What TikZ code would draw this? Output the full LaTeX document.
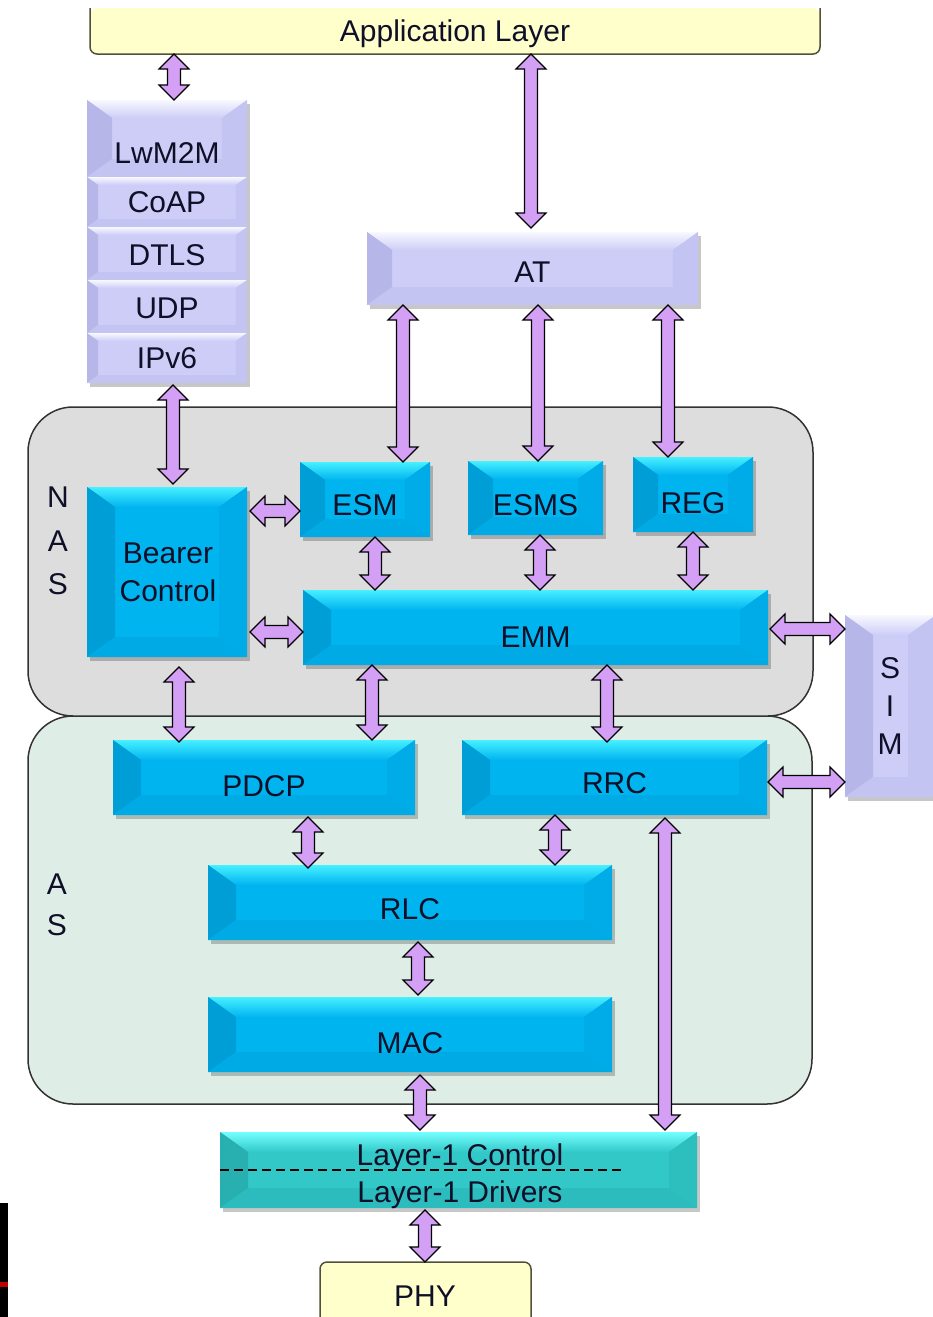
\documentclass[tikz,border=0pt]{standalone}
\usepackage{fontspec}
\setmainfont{Liberation Sans}
\usetikzlibrary{calc}
\pgfdeclarelayer{regions}
\pgfdeclarelayer{boxes}
\pgfsetlayers{regions,boxes,main}
\definecolor{txtc}{RGB}{15,15,40}
\definecolor{yel}{RGB}{255,255,204}
\definecolor{yelb}{RGB}{80,80,60}
\definecolor{nasf}{RGB}{221,221,221}
\definecolor{asf}{RGB}{222,238,230}
\definecolor{regb}{RGB}{50,50,50}
\definecolor{arrf}{RGB}{212,160,245}
\definecolor{bM}{RGB}{0,180,240}
\definecolor{bT}{RGB}{70,240,255}
\definecolor{bL}{RGB}{0,158,214}
\definecolor{bR}{RGB}{0,172,232}
\definecolor{bB}{RGB}{0,170,228}
\definecolor{lM}{RGB}{205,205,248}
\definecolor{lT}{RGB}{248,248,255}
\definecolor{lL}{RGB}{182,182,232}
\definecolor{lR}{RGB}{196,196,243}
\definecolor{lB}{RGB}{196,196,242}
\definecolor{tM}{RGB}{50,200,200}
\definecolor{tT}{RGB}{115,255,255}
\definecolor{tL}{RGB}{40,175,175}
\definecolor{tR}{RGB}{45,190,190}
\definecolor{tB}{RGB}{45,188,190}
\tikzset{
  boxshape/.style={rectangle, inner sep=0pt, outer sep=0pt},
  txt/.style={font=\fontsize{30}{36}\selectfont, text=txtc, inner sep=0pt, text height=21.5pt, text depth=0pt},
  txtml/.style={font=\fontsize{30}{38}\selectfont, text=txtc, inner sep=0pt, align=center},
  shadowc/.style={fill=black, opacity=0.22},
  fatarrow/.style={fill=arrf, draw=black, line width=1.2pt, line join=miter},
  region/.style={rectangle, rounded corners=45pt, draw=regb, line width=1.5pt, inner sep=0pt, outer sep=0pt},
  yelbox/.style={fill=yel},
  yelline/.style={draw=yelb, line width=1.5pt, rounded corners=7pt}
}
\newcommand{\bbox}[9]{%
  \node[boxshape, minimum width={#4-#2}, minimum height={#5-#3}] (#1) at ({(#2+#4)/2},{(#3+#5)/2}) {};
  \begin{pgfonlayer}{boxes}
    \fill[shadowc] ($(#1.north west)+(3,4)$) rectangle ($(#1.south east)+(3,4)$);
    \fill[#6M] (#1.north west) rectangle (#1.south east);
    \shade[top color=#6T, bottom color=#6M] (#1.north west) -- (#1.north east) -- ($(#1.north east)+({-1.4*#7},#7)$) -- ($(#1.north west)+({1.4*#7},#7)$) -- cycle;
    \fill[#6L] (#1.north west) -- ($(#1.north west)+({1.4*#7},#7)$) -- ($(#1.south west)+({1.4*#7},-#7)$) -- (#1.south west) -- cycle;
    \fill[#6R] (#1.north east) -- ($(#1.north east)+({-1.4*#7},#7)$) -- ($(#1.south east)+({-1.4*#7},-#7)$) -- (#1.south east) -- cycle;
    \fill[#6B] (#1.south west) -- ($(#1.south west)+({1.4*#7},-#7)$) -- ($(#1.south east)+({-1.4*#7},-#7)$) -- (#1.south east) -- cycle;
  \end{pgfonlayer}
  \node[txt] (#1-t) at ($(#1.center)+(0,#9)$) {#8};
}
\newcommand{\vfat}[2]{%
  \draw[fatarrow] let \p1=#1, \p2=#2 in
    (\x1,\y1) -- (\x1+15pt,\y1-15pt) -- (\x1+6.5pt,\y1-15pt) -- (\x1+6.5pt,\y2+15pt)
    -- (\x1+15pt,\y2+15pt) -- (\x1,\y2) -- (\x1-15pt,\y2+15pt) -- (\x1-6.5pt,\y2+15pt)
    -- (\x1-6.5pt,\y1-15pt) -- (\x1-15pt,\y1-15pt) -- cycle;
}
\newcommand{\hfat}[2]{%
  \draw[fatarrow] let \p1=#1, \p2=#2 in
    (\x1,\y1) -- (\x1+15pt,\y1+15pt) -- (\x1+15pt,\y1+6.5pt) -- (\x2-15pt,\y1+6.5pt)
    -- (\x2-15pt,\y1+15pt) -- (\x2,\y1) -- (\x2-15pt,\y1-15pt) -- (\x2-15pt,\y1-6.5pt)
    -- (\x1+15pt,\y1-6.5pt) -- (\x1+15pt,\y1-15pt) -- cycle;
}
\begin{document}
\begin{tikzpicture}[x=1pt,y=-1pt]
\useasboundingbox (0,0) rectangle (932,1317);

% regions
\begin{pgfonlayer}{regions}
  \node[region, fill=asf, minimum width=784, minimum height=388] (as) at (420,910) {};
  \node[region, fill=nasf, minimum width=785, minimum height=309] (nas) at (420.5,561.5) {};
\end{pgfonlayer}
\node[txt] (nas-n) at (58,497) {N};
\node[txt] (nas-a) at (58,541) {A};
\node[txt] (nas-s) at (58,584) {S};
\node[txt] (as-a) at (57,884) {A};
\node[txt] (as-s) at (57,925) {S};

% application layer
\node[boxshape, minimum width=730, minimum height=46] (app) at (455,31) {};
\begin{pgfonlayer}{boxes}
  \fill[yelbox, rounded corners=7pt] (app.north west) -- (app.south west) -- (app.south east) -- (app.north east) -- cycle;
  \draw[yelline] (app.north west) -- (app.south west) -- (app.south east) -- (app.north east);
\end{pgfonlayer}
\node[txt] (app-t) at (app.center) {Application Layer};

% PHY
\node[boxshape, minimum width=211, minimum height=60] (phy) at (425.5,1292) {};
\begin{pgfonlayer}{boxes}
  \fill[yelbox, rounded corners=7pt] (phy.south west) -- (phy.north west) -- (phy.north east) -- (phy.south east) -- cycle;
  \draw[yelline] (phy.south west) -- (phy.north west) -- (phy.north east) -- (phy.south east);
\end{pgfonlayer}
\node[txt] (phy-t) at (425,1296) {PHY};

% lavender stack
\bbox{lwm}{87}{100}{247}{177}{l}{18}{LwM2M}{14.5}
\bbox{coap}{87}{177}{247}{227}{l}{8}{CoAP}{0}
\bbox{dtls}{87}{227}{247}{280}{l}{8}{DTLS}{1.5}
\bbox{udp}{87}{280}{247}{333}{l}{8}{UDP}{1.5}
\bbox{ipv6}{87}{333}{247}{383}{l}{8}{IPv6}{0}
\bbox{at}{367}{232}{698}{305}{l}{18}{AT}{3.5}
\bbox{sim}{845}{615}{936}{797}{l}{20}{}{0}
\node[txt] (sim-s) at (890,668) {S};
\node[txt] (sim-i) at (890,706) {I};
\node[txt] (sim-m) at (890,744) {M};

% blue boxes
\bbox{bearer}{87}{487}{247}{657}{b}{20}{}{0}
\node[txtml] (bearer-lbl) at (168,572) {Bearer\\Control};
\bbox{esm}{300}{462}{430}{537}{b}{18}{ESM}{5.5}
\bbox{esms}{468}{461}{603}{535}{b}{18}{ESMS}{7}
\bbox{reg}{633}{457}{753}{532}{b}{18}{REG}{8.5}
\bbox{emm}{303}{590}{768}{665}{b}{20}{EMM}{9.5}
\bbox{pdcp}{113}{740}{415}{815}{b}{20}{PDCP}{8.5}
\bbox{rrc}{462}{740}{767}{815}{b}{20}{RRC}{5.5}
\bbox{rlc}{208}{865}{612}{940}{b}{20}{RLC}{6.5}
\bbox{mac}{208}{997}{612}{1072}{b}{20}{MAC}{8.5}

% layer 1
\bbox{l1}{220}{1132}{697}{1208}{t}{20}{}{0}
\draw[dash pattern=on 9pt off 5pt, line width=1.5pt] (l1.west) -- ($(l1.west)+(404,0)$);
\node[txt] (l1c) at (460,1155) {Layer-1 Control};
\node[txt] (l1d) at (460,1192) {Layer-1 Drivers};

% black artifact
\fill[black] (0,1203) rectangle (8,1317);
\fill[red!75!black] (0,1282) rectangle (8,1287);

% arrow columns and rows
\coordinate (c1) at (174,0);
\coordinate (c2) at (531,0);
\coordinate (c3) at (173,0);
\coordinate (c4) at (403,0);
\coordinate (c5) at (538,0);
\coordinate (c6) at (668,0);
\coordinate (c7) at (375,0);
\coordinate (c8) at (540,0);
\coordinate (c9) at (693,0);
\coordinate (c10) at (179,0);
\coordinate (c11) at (372,0);
\coordinate (c12) at (607,0);
\coordinate (c13) at (308,0);
\coordinate (c14) at (555,0);
\coordinate (c15) at (418,0);
\coordinate (c16) at (420,0);
\coordinate (c17) at (665,0);
\coordinate (c18) at (425,0);
\coordinate (r1) at (0,511);
\coordinate (r2) at (0,632);
\coordinate (r3) at (0,629);
\coordinate (r4) at (0,782);

\vfat{(app.south -| c1)}{(lwm.north -| c1)}
\vfat{(app.south -| c2)}{([yshift=4pt]at.north -| c2)}
\vfat{([yshift=-2pt]ipv6.south -| c3)}{([yshift=3pt]bearer.north -| c3)}
\vfat{(at.south -| c4)}{(esm.north -| c4)}
\vfat{(at.south -| c5)}{(esms.north -| c5)}
\vfat{(at.south -| c6)}{(reg.north -| c6)}
\vfat{(esm.south -| c7)}{(emm.north -| c7)}
\vfat{(esms.south -| c8)}{(emm.north -| c8)}
\vfat{(reg.south -| c9)}{(emm.north -| c9)}
\vfat{([yshift=-10pt]bearer.south -| c10)}{([yshift=-2pt]pdcp.north -| c10)}
\vfat{(emm.south -| c11)}{(pdcp.north -| c11)}
\vfat{(emm.south -| c12)}{([yshift=-2pt]pdcp.north -| c12)}
\vfat{([yshift=-2pt]pdcp.south -| c13)}{([yshift=-3pt]rlc.north -| c13)}
\vfat{(rrc.south -| c14)}{(rlc.north -| c14)}
\vfat{([yshift=-2pt]rlc.south -| c15)}{([yshift=2pt]mac.north -| c15)}
\vfat{([yshift=-3pt]mac.south -| c16)}{([yshift=2pt]l1.north -| c16)}
\vfat{([yshift=-3pt]rrc.south -| c17)}{([yshift=2pt]l1.north -| c17)}
\vfat{([yshift=-2pt]l1.south -| c18)}{(phy.north -| c18)}
\hfat{([xshift=3pt]bearer.east |- r1)}{(esm.west |- r1)}
\hfat{([xshift=3pt]bearer.east |- r2)}{(emm.west |- r2)}
\hfat{([xshift=2pt]emm.east |- r3)}{(sim.west |- r3)}
\hfat{([xshift=1pt]rrc.east |- r4)}{(sim.west |- r4)}
\end{tikzpicture}
\end{document}
